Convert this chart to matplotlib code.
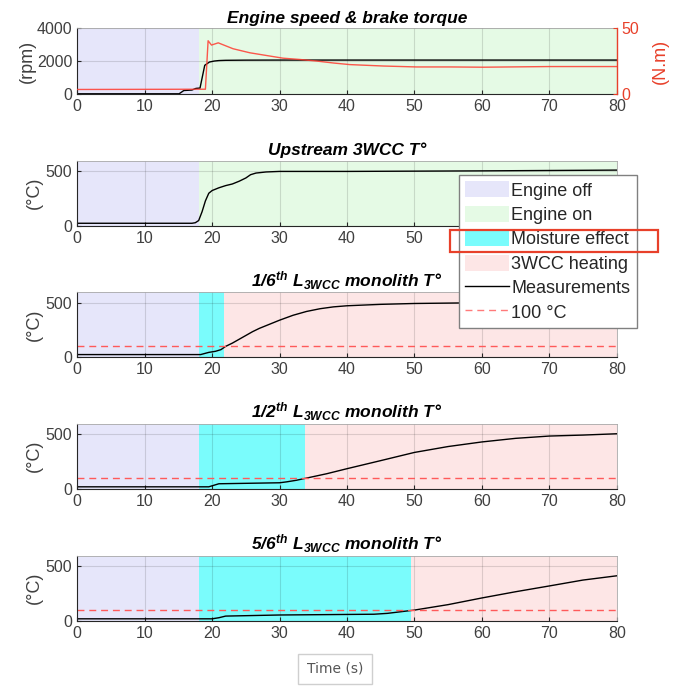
import matplotlib
matplotlib.use('Agg')
import matplotlib.pyplot as plt
from matplotlib.patches import Patch, Rectangle
from matplotlib.lines import Line2D

plt.rcParams['font.family'] = ['Liberation Sans', 'DejaVu Sans']
plt.rcParams['mathtext.fontset'] = 'custom'
plt.rcParams['mathtext.rm'] = 'Liberation Sans:bold:italic'
plt.rcParams['mathtext.it'] = 'Liberation Sans:bold:italic'
plt.rcParams['mathtext.bf'] = 'Liberation Sans:bold:italic'

# engine speed (rpm) and brake torque (N.m)
t_speed = [0, 15.1, 15.8, 17.0, 17.6, 18.2, 18.9, 19.6, 20.3, 21.0, 22.0, 25, 30, 40, 50, 60, 70, 80]
speed = [0, 0, 200, 230, 330, 350, 1740, 1940, 2000, 2030, 2045, 2055, 2060, 2060, 2060, 2060, 2060, 2060]
t_torque = [0, 19.0, 19.4, 19.9, 20.9, 23.1, 25.6, 28.1, 30.5, 33.0, 35.5, 38.0, 40.4, 45.4,
            50.3, 55.3, 60.2, 70, 80]
torque = [3.3, 3.5, 40.5, 37.2, 38.9, 34.4, 31.3, 29.2, 27.2, 26.2, 25.0, 23.5, 22.3, 21.2,
          20.5, 20.5, 20.3, 20.8, 20.8]

# upstream 3WCC temperature
t_up = [0, 17.0, 17.5, 18.0, 18.5, 19.0, 19.5, 20, 21, 22, 23, 24, 25, 25.7, 26.5, 28, 30, 40, 60, 80]
temp_up = [25, 25, 30, 50, 130, 230, 300, 325, 350, 370, 385, 410, 440, 470, 485, 495, 500, 500, 505, 512]

# 1/6th monolith
t_16 = [0, 18.3, 19.5, 20.5, 21.3, 22, 23, 24, 25, 26, 27, 28, 30, 32, 34, 36, 38, 40, 45, 50, 60, 70, 80]
temp_16 = [25, 25, 45, 55, 70, 100, 130, 165, 200, 235, 265, 290, 340, 385, 420, 445, 462, 472,
           485, 493, 500, 503, 505]

# 1/2 monolith
t_12 = [0, 19.5, 21, 25, 30, 31, 32.5, 34, 37, 40, 45, 50, 55, 60, 65, 70, 75, 80]
temp_12 = [20, 20, 48, 52, 57, 65, 80, 100, 140, 186, 260, 335, 389, 431, 464, 485, 494, 506]

# 5/6th monolith
t_56 = [0, 20, 21, 22, 30, 40, 44, 46, 48, 50, 55, 60, 65, 70, 75, 80]
temp_56 = [20, 20, 30, 45, 55, 60, 62, 70, 85, 100, 150, 211, 268, 321, 375, 414]

engine_start = 18.1
moisture_end = [21.8, 33.8, 49.5]

titles = ['Engine speed & brake torque', 'Upstream 3WCC T°',
          r'$1/6^{th}\ L_{3WCC}\ monolith\ T°$',
          r'$1/2^{th}\ L_{3WCC}\ monolith\ T°$',
          r'$5/6^{th}\ L_{3WCC}\ monolith\ T°$']

c_off = '#e6e6fa'
c_on = '#e5fae5'
c_moist = '#7afcfc'
c_heat = '#fde6e6'
c_axis = '#262626'
c_text = '#404040'
c_red = '#e8402a'

fig = plt.figure(figsize=(6.75, 6.86), dpi=100)
left = 77.3 / 675
width = 539.4 / 675
height = 65.5 / 686
bottoms = [1 - 93.8 / 686, 1 - 226 / 686, 1 - 357.3 / 686, 1 - 489 / 686, 1 - 621 / 686]

axes = []
for i, b in enumerate(bottoms):
    ax = fig.add_axes([left, b, width, height])
    ax.set_xlim(0, 80)
    ax.set_xticks(range(0, 81, 10))
    ax.set_axisbelow(True)
    ax.grid(True, color='black', alpha=0.13, lw=0.8)
    ax.tick_params(direction='in', length=3, labelsize=11.5, colors=c_axis, labelcolor=c_text,
                   top=False, right=False)
    for s in ['left', 'bottom']:
        ax.spines[s].set_color(c_axis)
    for s in ['top', 'right']:
        ax.spines[s].set_color('#a8a8a8')
        ax.spines[s].set_linewidth(0.6)
    ax.set_title(titles[i], fontsize=12.5, fontweight='bold', fontstyle='italic', pad=4)
    ax.axvspan(0, engine_start, color=c_off, zorder=0, lw=0)
    if i < 2:
        ax.axvspan(engine_start, 80, color=c_on, zorder=0, lw=0)
    else:
        ax.axvspan(engine_start, moisture_end[i - 2], color=c_moist, zorder=0, lw=0)
        ax.axvspan(moisture_end[i - 2], 80, color=c_heat, zorder=0, lw=0)
    axes.append(ax)

# panel 1
ax = axes[0]
ax.plot(t_speed, speed, color='black', lw=1)
ax.set_ylim(0, 4000)
ax.set_yticks([0, 2000, 4000])
ax.set_ylabel('(rpm)', fontsize=13, color=c_text, labelpad=1)
ax2 = ax.twinx()
ax2.plot(t_torque, torque, color='#ff3b30', lw=1, alpha=0.85)
ax2.set_ylim(0, 50)
ax2.set_yticks([0, 50])
ax2.tick_params(direction='in', length=3, labelsize=11.5, colors=c_red)
ax2.spines['right'].set_color(c_red)
ax2.spines['right'].set_linewidth(1)
ax2.spines['top'].set_visible(False)
ax2.spines['left'].set_visible(False)
ax2.spines['bottom'].set_visible(False)
ax2.set_ylabel('(N.m)', fontsize=13, color=c_red, labelpad=9)

# temperature panels
series = [(t_up, temp_up), (t_16, temp_16), (t_12, temp_12), (t_56, temp_56)]
for i, (tt, yy) in enumerate(series):
    ax = axes[i + 1]
    ax.plot(tt, yy, color='black', lw=1)
    if i > 0:
        ax.axhline(100, color='#ff5a5a', lw=1, dashes=(5, 3.5))
    ax.set_ylim(0, 600)
    ax.set_yticks([0, 500])
    ax.set_ylabel('(°C)', fontsize=13, color=c_text, labelpad=2)

# tick labels of panel 2 that sit under the legend
for lab in axes[1].get_xticklabels()[6:]:
    lab.set_visible(False)

# legend
handles = [Patch(facecolor=c_off, edgecolor='none'),
           Patch(facecolor=c_on, edgecolor='none'),
           Patch(facecolor=c_moist, edgecolor='none'),
           Patch(facecolor=c_heat, edgecolor='none'),
           Line2D([], [], color='black', lw=1),
           Line2D([], [], color='#ff7a7a', lw=1, dashes=(5, 3.5))]
labels = ['Engine off', 'Engine on', 'Moisture effect', '3WCC heating', 'Measurements', '100 °C']
leg = fig.legend(handles, labels, loc='upper left', bbox_to_anchor=(459 / 675, 1 - 175 / 686),
                 borderaxespad=0, fontsize=13, fancybox=False, framealpha=1,
                 edgecolor='#808080', handlelength=2.4, handleheight=1.0,
                 handletextpad=0.15, labelspacing=0.34, borderpad=0.35)
leg.get_frame().set_linewidth(1)
for txt in leg.get_texts():
    txt.set_color('#262626')

fig.add_artist(Rectangle((450 / 675, 1 - 252 / 686), 208 / 675, 22 / 686,
                         transform=fig.transFigure, fill=False, edgecolor=c_red, lw=1.6,
                         zorder=10))

fig.text(335 / 675, 1 - 662 / 686, 'Time (s)', ha='center', va='top', fontsize=10,
         family='DejaVu Sans', color='#555555',
         bbox=dict(boxstyle='square,pad=0.6', fc='white', ec='#cfcfcf', lw=1))

fig.savefig('out.png', dpi=100)
